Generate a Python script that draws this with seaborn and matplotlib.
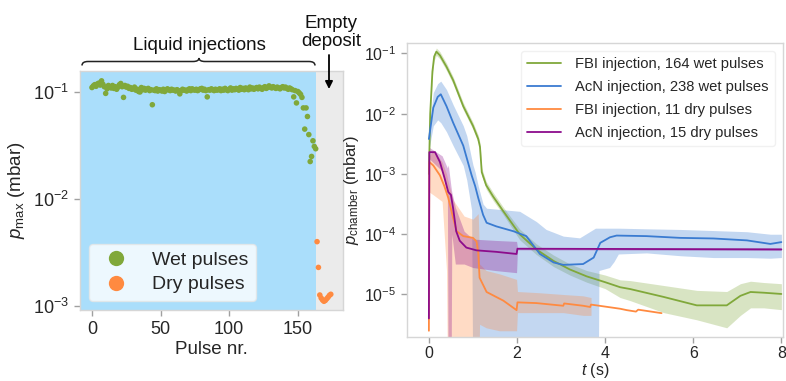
import numpy as np
import pandas as pd
import matplotlib
matplotlib.use("Agg")
import matplotlib.pyplot as plt
from matplotlib.path import Path
from matplotlib.patches import PathPatch
from matplotlib.lines import Line2D
from matplotlib.ticker import NullLocator
import seaborn as sns

# ---------------- data: left panel (p_max per pulse) ----------------
wet_pmax = [
    0.110, 0.114, 0.117, 0.113, 0.119, 0.121, 0.116, 0.127, 0.118, 0.112,
    0.097, 0.107, 0.115, 0.111, 0.109, 0.115, 0.108, 0.112, 0.106, 0.111,
    0.117, 0.120, 0.112, 0.089, 0.115, 0.111, 0.113, 0.108, 0.110, 0.106,
    0.107, 0.111, 0.104, 0.106, 0.101, 0.100, 0.110, 0.105, 0.108, 0.104,
    0.106, 0.108, 0.103, 0.105, 0.076, 0.104, 0.103, 0.107, 0.102, 0.105,
    0.104, 0.102, 0.106, 0.101, 0.104, 0.107, 0.105, 0.103, 0.106, 0.104,
    0.104, 0.102, 0.105, 0.103, 0.096, 0.103, 0.106, 0.104, 0.104, 0.102,
    0.105, 0.107, 0.103, 0.107, 0.105, 0.104, 0.106, 0.103, 0.105, 0.107,
    0.108, 0.104, 0.106, 0.103, 0.090, 0.105, 0.104, 0.107, 0.105, 0.103,
    0.106, 0.104, 0.105, 0.107, 0.103, 0.106, 0.104, 0.108, 0.105, 0.103,
    0.106, 0.109, 0.104, 0.107, 0.105, 0.108, 0.106, 0.104, 0.110, 0.106,
    0.108, 0.105, 0.109, 0.107, 0.105, 0.111, 0.107, 0.109, 0.106, 0.108,
    0.110, 0.107, 0.111, 0.108, 0.106, 0.110, 0.112, 0.108, 0.110, 0.114,
    0.111, 0.109, 0.112, 0.110, 0.108, 0.111, 0.109, 0.107, 0.110, 0.112,
    0.109, 0.111, 0.108, 0.106, 0.109, 0.107, 0.105, 0.090, 0.103, 0.079,
    0.101, 0.098, 0.095, 0.089, 0.071, 0.045, 0.071, 0.059, 0.040, 0.0224,
    0.025, 0.035, 0.031, 0.0295,
]
dry_pmax = [0.0040, 0.0023, 0.00127, 0.00119, 0.00114, 0.00111, 0.00113,
            0.00117, 0.00121, 0.00126, 0.00129]
left_labels = ["Wet pulses", "Dry pulses"]

# ---------------- data: right panel (chamber pressure vs time) ----------------
series_labels = ["FBI injection, 164 wet pulses", "AcN injection, 238 wet pulses",
                 "FBI injection, 11 dry pulses", "AcN injection, 15 dry pulses"]

fbi_wet_t = [0, 0.03, 0.08, 0.12, 0.17, 0.25, 0.4, 0.55, 0.78, 1.0, 1.12, 1.16, 1.2, 1.3,
             1.46, 1.69, 2.06, 2.44, 2.83, 3.2, 3.58, 4.0, 4.34, 4.57, 5.33, 6.08, 6.76,
             7.07, 7.3, 7.6, 8.0]
fbi_wet_p = [1.0e-3, 1.0e-2, 5.0e-2, 8.9e-2, 1.07e-1, 9.3e-2, 6.0e-2, 3.6e-2, 1.33e-2,
             6.3e-3, 3.8e-3, 2.8e-3, 1.07e-3, 6.5e-4, 4.2e-4, 2.4e-4, 1.0e-4, 5.6e-5,
             3.6e-5, 2.6e-5, 2.0e-5, 1.6e-5, 1.32e-5, 1.23e-5, 9.1e-6, 6.6e-6, 6.6e-6,
             9.5e-6, 1.10e-5, 1.07e-5, 1.02e-5]
fbi_wet_hi = [1.15e-3, 1.15e-2, 5.8e-2, 1.02e-1, 1.23e-1, 1.07e-1, 6.9e-2, 4.1e-2, 1.53e-2,
              7.2e-3, 4.4e-3, 3.3e-3, 1.25e-3, 7.5e-4, 4.9e-4, 2.8e-4, 1.22e-4, 6.9e-5,
              4.5e-5, 3.2e-5, 2.5e-5, 2.1e-5, 1.75e-5, 1.7e-5, 1.41e-5, 1.17e-5, 1.12e-5,
              1.51e-5, 1.66e-5, 1.58e-5, 1.51e-5]
fbi_wet_lo = [8.7e-4, 8.7e-3, 4.35e-2, 7.7e-2, 9.3e-2, 8.1e-2, 5.2e-2, 3.1e-2, 1.16e-2,
              5.5e-3, 3.3e-3, 2.45e-3, 9.3e-4, 5.6e-4, 3.6e-4, 2.1e-4, 8.1e-5, 4.6e-5,
              2.9e-5, 2.1e-5, 1.6e-5, 1.25e-5, 8.9e-6, 7.9e-6, 5.0e-6, 3.8e-6, 2.8e-6,
              4.5e-6, 6.0e-6, 6.0e-6, 5.6e-6]

acn_wet_t = [0, 0.1, 0.2, 0.27, 0.4, 0.55, 0.78, 0.97, 1.05, 1.12, 1.23, 1.31, 1.53, 1.92,
             2.21, 2.52, 2.83, 3.05, 3.5, 3.74, 3.89, 4.11, 4.26, 4.94, 5.7, 6.46, 7.22,
             7.75, 8.0]
acn_wet_p = [3.8e-3, 1.26e-2, 1.9e-2, 2.1e-2, 1.33e-2, 7.1e-3, 2.95e-3, 9.5e-4, 6.3e-4,
             4.0e-4, 2.1e-4, 1.55e-4, 1.35e-4, 1.12e-4, 9.3e-5, 4.7e-5, 3.4e-5, 3.1e-5,
             3.2e-5, 4.1e-5, 7.2e-5, 8.9e-5, 9.5e-5, 9.3e-5, 8.7e-5, 8.5e-5, 7.9e-5,
             6.9e-5, 7.4e-5]
acn_wet_band_t = [0, 0.1, 0.2, 0.27, 0.4, 0.55, 0.78, 0.86, 0.97, 1.0, 1.05, 1.12, 1.23,
                  1.31, 2.06, 2.44, 2.66, 3.05, 3.42, 3.78, 3.84, 3.86, 4.1, 4.2, 4.3, 4.94,
                  5.7, 6.46, 7.22, 7.75, 8.0]
acn_wet_hi = [5.0e-3, 2.24e-2, 3.16e-2, 3.47e-2, 2.51e-2, 1.41e-2, 6.3e-3, 4.3e-3, 1.78e-3,
              1.41e-3, 1.07e-3, 6.3e-4, 3.16e-4, 2.7e-4, 2.4e-4, 1.62e-4, 1.2e-4, 9.3e-5,
              8.7e-5, 1.26e-4, 1.26e-4, 1.26e-4, 1.26e-4, 1.26e-4, 1.26e-4, 1.23e-4,
              1.2e-4, 1.15e-4, 1.1e-4, 1.0e-4, 1.0e-4]
acn_wet_lo = [2.5e-3, 6.3e-3, 7.9e-3, 7.1e-3, 5.0e-3, 2.95e-3, 1.38e-3, 7.9e-4, 2.5e-4,
              1e-7, 1e-7, 1e-7, 1e-7, 1e-7, 1e-7, 1e-7, 1e-7, 1e-7, 1e-7, 1e-7, 1e-7,
              2.5e-5, 2.8e-5, 3.5e-5, 4.7e-5, 4.9e-5, 4.4e-5, 4.1e-5, 4.1e-5, 4.0e-5,
              4.1e-5]

fbi_dry_t = [0, 0.01, 0.1, 0.25, 0.35, 0.44, 0.55, 0.63, 0.78, 1.0, 1.08, 1.12, 1.15,
             1.31, 1.69, 1.99, 2.01, 2.44, 3.05, 3.07, 3.5, 3.66, 3.68, 4.34, 4.49, 4.7,
             4.75, 5.28]
fbi_dry_p = [2.5e-6, 1.58e-3, 1.38e-3, 9.5e-4, 6.3e-4, 4.0e-4, 1.86e-4, 1.12e-4, 9.3e-5,
             8.7e-5, 7.6e-5, 5.0e-5, 1.9e-5, 1.1e-5, 7.9e-6, 5.5e-6, 7.4e-6, 7.2e-6,
             6.5e-6, 7.1e-6, 6.5e-6, 6.2e-6, 6.8e-6, 5.8e-6, 5.5e-6, 5.2e-6, 5.6e-6, 4.9e-6]
fbi_dry_band_t = [0.01, 0.1, 0.3, 0.4, 0.43, 0.55, 0.8, 1.0, 1.12, 1.15, 1.3, 1.6, 1.99,
                  2.01, 2.5, 3.05, 3.5, 3.68]
fbi_dry_hi = [2.0e-3, 2.5e-3, 1.58e-3, 1.0e-3, 7.9e-4, 3.7e-4, 2.0e-4, 1.78e-4, 2.2e-4,
              3.2e-5, 2.5e-5, 2.2e-5, 1.78e-5, 1.12e-5, 1.07e-5, 1.0e-5, 9.5e-6, 8.9e-6]
fbi_dry_lo = [5.0e-4, 4.5e-4, 3.5e-4, 2.5e-5, 1e-7, 1e-7, 1e-7, 1e-7, 1e-7, 3.2e-6,
              2.8e-6, 2.5e-6, 2.5e-6, 5.0e-6, 5.0e-6, 5.0e-6, 4.5e-6, 4.5e-6]

acn_dry_t = [0, 0.01, 0.14, 0.25, 0.36, 0.44, 0.5, 0.55, 0.62, 0.70, 0.85, 1.08, 1.53,
             1.99, 2.01, 8.0]
acn_dry_p = [4.0e-6, 2.3e-3, 2.3e-3, 1.58e-3, 8.3e-4, 5.0e-4, 4.5e-4, 2.7e-4, 1.12e-4,
             7.8e-5, 6.0e-5, 5.4e-5, 5.1e-5, 4.7e-5, 5.75e-5, 5.6e-5]
acn_dry_band_t = [0.01, 0.3, 0.42, 0.44, 0.5, 0.52, 0.6, 0.8, 1.0, 1.5, 1.99, 2.01, 8.0]
acn_dry_hi = [2.75e-3, 2.0e-3, 1.26e-3, 1.41e-3, 6.3e-4, 5.0e-4, 2.8e-4, 1.12e-4, 8.3e-5,
              7.9e-5, 7.6e-5, 6.0e-5, 5.9e-5]
acn_dry_lo = [1.78e-3, 1.12e-3, 5.0e-4, 1e-7, 1e-7, 1.0e-4, 3.2e-5, 3.2e-5, 2.8e-5,
              2.5e-5, 2.3e-5, 5.5e-5, 5.4e-5]

# ---------------- style ----------------
sns.set_theme(style="ticks")
plt.rcParams['font.family'] = ['Liberation Sans', 'DejaVu Sans']
plt.rcParams['mathtext.fontset'] = 'custom'
plt.rcParams['mathtext.rm'] = 'Liberation Sans'
plt.rcParams['mathtext.it'] = 'Liberation Sans:italic'
plt.rcParams['mathtext.bf'] = 'Liberation Sans:bold'
plt.rcParams['axes.edgecolor'] = '#d6d6d6'
plt.rcParams['axes.linewidth'] = 1.0

GREEN = '#80a83a'
BLUE = '#3a7bd1'
ORANGE = '#ff8a40'
PURPLE = '#8c0c8c'
TXT = '#262626'

W, H = 786, 381
fig = plt.figure(figsize=(W / 100, H / 100), dpi=100)


def fp(x, y):
    return (x / W, 1 - y / H)


ax1 = fig.add_axes([80 / W, 71 / H, 263 / W, 239.3 / H])
ax2 = fig.add_axes([407.3 / W, 44 / H, 375.4 / W, 294 / H])

# ---------------- left panel ----------------
n_wet = len(wet_pmax)
df_left = pd.DataFrame({
    'pulse': list(range(n_wet)) + list(range(n_wet, n_wet + len(dry_pmax))),
    'pmax': wet_pmax + dry_pmax,
    'kind': [left_labels[0]] * n_wet + [left_labels[1]] * len(dry_pmax),
})
xl = (-8.7, 182.9)
ax1.set_yscale('log')
ax1.axvspan(xl[0], n_wet - 0.5, color='#aadefb', lw=0, zorder=0)
ax1.axvspan(n_wet - 0.5, xl[1], color='#ebebeb', lw=0, zorder=0)
sns.scatterplot(data=df_left, x='pulse', y='pmax', hue='kind',
                palette={left_labels[0]: GREEN, left_labels[1]: ORANGE},
                s=16, linewidth=0, legend=False, ax=ax1, zorder=3)
ax1.set_xlim(*xl)
ax1.set_ylim(9.2e-4, 0.158)
ax1.set_xticks([0, 50, 100, 150])
ax1.set_yticks([1e-3, 1e-2, 1e-1])
ax1.yaxis.set_minor_locator(NullLocator())
ax1.tick_params(labelsize=13, color='#a0a0a0', labelcolor=TXT, length=4.5, width=1)
ax1.set_xlabel('Pulse nr.', fontsize=13.5, color=TXT, labelpad=2)
ax1.set_ylabel(r'$p_\mathrm{max}$ (mbar)', fontsize=13.5, color=TXT, labelpad=4)
h_left = [Line2D([], [], ls='none', marker='o', ms=11, mec='none', mfc=GREEN),
          Line2D([], [], ls='none', marker='o', ms=11, mec='none', mfc=ORANGE)]
lg1 = ax1.legend(h_left, left_labels, loc='lower left', fontsize=14, frameon=True,
                 handlelength=2.0, handletextpad=0.85, borderaxespad=0.45,
                 labelspacing=0.35, framealpha=0.8, facecolor='white',
                 edgecolor='#e6e6e6')
for t in lg1.get_texts():
    t.set_color(TXT)

# annotations above left panel
fig.text(*fp(199, 46), 'Liquid injections', ha='center', va='center',
         fontsize=13.5, color='#111111')
fig.text(*fp(331, 32.5), 'Empty\ndeposit', ha='center', va='center',
         fontsize=13.5, color='#111111', linespacing=1.15)
ax1.annotate('', xy=fp(329, 89), xytext=fp(329, 55), xycoords='figure fraction',
             textcoords='figure fraction',
             arrowprops=dict(arrowstyle='-|>', color='black', lw=1.3,
                             mutation_scale=11, shrinkA=0, shrinkB=0))
verts = [fp(82, 65.5), fp(82, 61.5), fp(88, 61.5), fp(193, 61.5), fp(199, 61.5),
         fp(199, 58), fp(199, 61.5), fp(205, 61.5), fp(309, 61.5), fp(315, 61.5),
         fp(315, 65.5)]
codes = [Path.MOVETO, Path.CURVE3, Path.CURVE3, Path.LINETO, Path.CURVE3, Path.CURVE3,
         Path.CURVE3, Path.CURVE3, Path.LINETO, Path.CURVE3, Path.CURVE3]
fig.add_artist(PathPatch(Path(verts, codes), transform=fig.transFigure, fill=False,
                         lw=1.1, edgecolor='#222222'))

# ---------------- right panel ----------------
ax2.set_yscale('log')
pal = dict(zip(series_labels, [GREEN, BLUE, ORANGE, PURPLE]))
bands = [(fbi_wet_t, fbi_wet_lo, fbi_wet_hi),
         (acn_wet_band_t, acn_wet_lo, acn_wet_hi),
         (fbi_dry_band_t, fbi_dry_lo, fbi_dry_hi),
         (acn_dry_band_t, acn_dry_lo, acn_dry_hi)]
for lab, (bt, lo, hi) in zip(series_labels, bands):
    ax2.fill_between(bt, lo, hi, color=pal[lab], alpha=0.3, lw=0)

lines = [(fbi_wet_t, fbi_wet_p), (acn_wet_t, acn_wet_p),
         (fbi_dry_t, fbi_dry_p), (acn_dry_t, acn_dry_p)]
df_right = pd.concat([pd.DataFrame({'t': tt, 'p': pp, 'series': lab})
                      for lab, (tt, pp) in zip(series_labels, lines)], ignore_index=True)
sns.lineplot(data=df_right, x='t', y='p', hue='series', hue_order=series_labels,
             palette=pal, estimator=None, sort=False, lw=1.3, ax=ax2, legend=False)

ax2.set_xlim(-0.49, 8.03)
ax2.set_ylim(1.97e-6, 0.149)
ax2.set_xticks([0, 2, 4, 6, 8])
ax2.set_yticks([1e-5, 1e-4, 1e-3, 1e-2, 1e-1])
ax2.yaxis.set_minor_locator(NullLocator())
ax2.tick_params(labelsize=11.5, color='#a0a0a0', labelcolor=TXT, length=4.5, width=1)
ax2.tick_params(axis='x', pad=2)
ax2.set_xlabel(r'$t$ (s)', fontsize=11.5, color=TXT, labelpad=0)
ax2.set_ylabel(r'$p_\mathrm{chamber}$ (mbar)', fontsize=12, color=TXT, labelpad=2)
h_right = [Line2D([], [], color=pal[l], lw=1.3) for l in series_labels]
lg2 = ax2.legend(h_right, series_labels, loc='upper right', fontsize=10.6, frameon=True,
                 handlelength=2.3, handletextpad=0.95, labelspacing=0.62,
                 borderaxespad=0.55, framealpha=0.8, facecolor='white',
                 edgecolor='#eeeeee')
for t in lg2.get_texts():
    t.set_color(TXT)

fig.savefig('out.png', dpi=100)
